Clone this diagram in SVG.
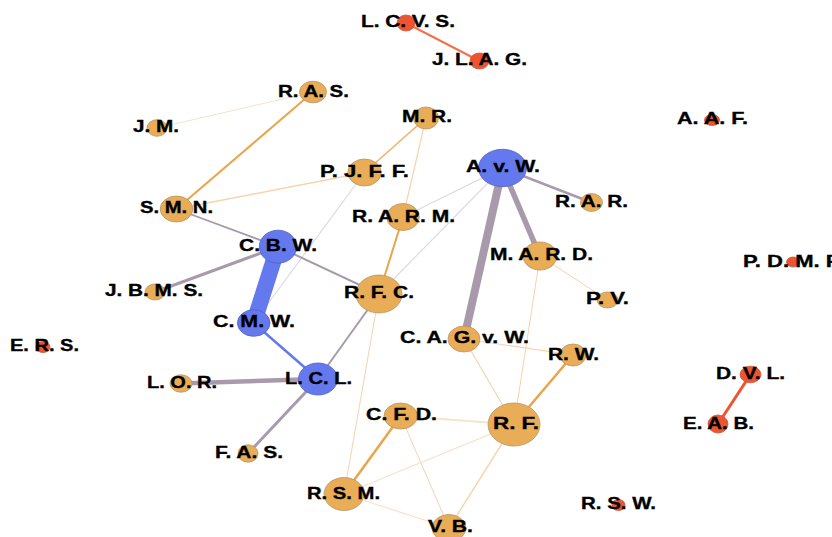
<svg xmlns="http://www.w3.org/2000/svg" width="832" height="537" viewBox="0 0 832 537">
<style>
.n ellipse{stroke-width:0.8}
.o{fill:#eaad57;stroke:#b59467}
.b{fill:#6479ee;stroke:#5362c0}
.r{fill:#ef5430;stroke:#c8583c}
text{font-family:"Liberation Sans",Arial,sans-serif;font-weight:bold;font-size:16.5px;fill:#000;stroke:#000;stroke-width:0.35;text-anchor:middle}
#edges line{fill:none;stroke-linecap:butt}
.pg{stroke:#a89aaa}
.lg{stroke:#ddd7e0}
.or{stroke:#eaa54a}
.lo{stroke:#f6d3ac}
.vlo{stroke:#f8e1c9}
</style>
<rect width="832" height="537" fill="#fff"/>
<g id="edges">
<line x1="406" y1="23" x2="479.5" y2="61" stroke="#f2704c" stroke-width="2"/>
<line x1="313" y1="92" x2="157" y2="128" class="vlo" stroke-width="1"/>
<line x1="313" y1="92" x2="176.5" y2="209" class="or" stroke-width="2"/>
<line x1="176.5" y1="209" x2="364.5" y2="172.5" class="lo" stroke-width="1.5"/>
<line x1="364.5" y1="172.5" x2="426" y2="118" class="or" stroke-width="1.6" stroke-opacity="0.85"/>
<line x1="426" y1="118" x2="403" y2="217" class="lo" stroke-width="1.2"/>
<line x1="176.5" y1="209" x2="278" y2="246.7" class="pg" stroke-width="1.8"/>
<line x1="364.5" y1="172.5" x2="253.7" y2="323" class="lg" stroke-width="1.1"/>
<line x1="278" y1="246.7" x2="155" y2="292" class="pg" stroke-width="3"/>
<line x1="278" y1="246.7" x2="379" y2="294" class="pg" stroke-width="2"/>
<line x1="278" y1="246.7" x2="253.7" y2="323" stroke="#6479ee" stroke-width="16"/>
<line x1="253.7" y1="323" x2="318" y2="379" stroke="#6479ee" stroke-width="2.5"/>
<line x1="403" y1="217" x2="379" y2="294" class="or" stroke-width="2"/>
<line x1="502.5" y1="168" x2="403" y2="217" class="lg" stroke-width="1.1"/>
<line x1="502.5" y1="168" x2="379" y2="294" class="lg" stroke-width="1.1"/>
<line x1="502.5" y1="168" x2="591.5" y2="202.5" class="pg" stroke-width="2.5"/>
<line x1="502.5" y1="168" x2="540" y2="256" class="pg" stroke-width="5.5"/>
<line x1="502.5" y1="168" x2="464" y2="339" class="pg" stroke-width="8"/>
<line x1="540" y1="256" x2="607.5" y2="300" class="lo" stroke-width="1"/>
<line x1="540" y1="256" x2="514" y2="424.5" class="lo" stroke-width="1"/>
<line x1="379" y1="294" x2="318" y2="379" class="pg" stroke-width="2"/>
<line x1="379" y1="294" x2="344" y2="494" class="lo" stroke-width="1"/>
<line x1="318" y1="379" x2="181" y2="383.5" class="pg" stroke-width="4.5"/>
<line x1="318" y1="379" x2="248" y2="453.5" class="pg" stroke-width="3"/>
<line x1="464" y1="339" x2="573" y2="355" class="lo" stroke-width="1.2"/>
<line x1="464" y1="339" x2="514" y2="424.5" class="lo" stroke-width="1.2"/>
<line x1="573" y1="355" x2="514" y2="424.5" class="or" stroke-width="2.5"/>
<line x1="400.7" y1="416" x2="514" y2="424.5" class="vlo" stroke-width="1.8"/>
<line x1="400.7" y1="416" x2="344" y2="494" class="or" stroke-width="2.5"/>
<line x1="400.7" y1="416" x2="449" y2="528" class="lo" stroke-width="1"/>
<line x1="514" y1="424.5" x2="344" y2="494" class="vlo" stroke-width="1.2"/>
<line x1="514" y1="424.5" x2="449" y2="528" class="lo" stroke-width="1.4" stroke="#f2c48c"/>
<line x1="344" y1="494" x2="449" y2="528" class="vlo" stroke-width="1.2"/>
<line x1="750.5" y1="374.5" x2="718" y2="424" stroke="#ef5430" stroke-width="3"/>
</g>
<g id="n-lcvs" class="n"><ellipse class="r" cx="406" cy="23" rx="9" ry="8"/><text x="408" y="27" textLength="94" lengthAdjust="spacingAndGlyphs">L. C. V. S.</text></g>
<g id="n-jlag" class="n"><ellipse class="r" cx="479.5" cy="61" rx="9.5" ry="8"/><text x="479.5" y="65" textLength="95" lengthAdjust="spacingAndGlyphs">J. L. A. G.</text></g>
<g id="n-ras" class="n"><ellipse class="o" cx="313" cy="92" rx="13.5" ry="10.8"/><text x="313.5" y="97" textLength="71" lengthAdjust="spacingAndGlyphs">R. A. S.</text></g>
<g id="n-jm" class="n"><ellipse class="o" cx="157" cy="128" rx="10" ry="8.3"/><text x="156" y="132" textLength="46" lengthAdjust="spacingAndGlyphs">J. M.</text></g>
<g id="n-mr" class="n"><ellipse class="o" cx="426" cy="118" rx="12.5" ry="11"/><text x="427" y="122" textLength="50" lengthAdjust="spacingAndGlyphs">M. R.</text></g>
<g id="n-aaf" class="n"><ellipse class="r" cx="712" cy="120" rx="7.5" ry="5.5"/><text x="712.5" y="124" textLength="71" lengthAdjust="spacingAndGlyphs">A. A. F.</text></g>
<g id="n-pjff" class="n"><ellipse class="o" cx="364.5" cy="172.5" rx="16.7" ry="13.5"/><text x="364.5" y="177" textLength="89" lengthAdjust="spacingAndGlyphs">P. J. F. F.</text></g>
<g id="n-avw" class="n"><ellipse class="b" cx="502.5" cy="168" rx="24" ry="18.7"/><text x="503" y="172" textLength="74" lengthAdjust="spacingAndGlyphs">A. v. W.</text></g>
<g id="n-smn" class="n"><ellipse class="o" cx="176.5" cy="209" rx="16.3" ry="13"/><text x="176.5" y="213" textLength="73" lengthAdjust="spacingAndGlyphs">S. M. N.</text></g>
<g id="n-rarm" class="n"><ellipse class="o" cx="403" cy="217" rx="16.3" ry="13.5"/><text x="403.5" y="222" textLength="103" lengthAdjust="spacingAndGlyphs">R. A. R. M.</text></g>
<g id="n-rar" class="n"><ellipse class="o" cx="591.5" cy="202.5" rx="11" ry="9"/><text x="591.5" y="207" textLength="73" lengthAdjust="spacingAndGlyphs">R. A. R.</text></g>
<g id="n-cbw" class="n"><ellipse class="b" cx="278" cy="246.7" rx="18.7" ry="16.5"/><text x="278" y="251" textLength="78" lengthAdjust="spacingAndGlyphs">C. B. W.</text></g>
<g id="n-mard" class="n"><ellipse class="o" cx="540" cy="256" rx="17" ry="14"/><text x="541.5" y="260" textLength="103" lengthAdjust="spacingAndGlyphs">M. A. R. D.</text></g>
<g id="n-pdmf" class="n"><ellipse class="r" cx="793" cy="262" rx="6.5" ry="5"/><text x="793" y="267" textLength="100" lengthAdjust="spacingAndGlyphs">P. D. M. F.</text></g>
<g id="n-jbms" class="n"><ellipse class="o" cx="155" cy="292" rx="10" ry="8"/><text x="154" y="296" textLength="98" lengthAdjust="spacingAndGlyphs">J. B. M. S.</text></g>
<g id="n-rfc" class="n"><ellipse class="o" cx="379" cy="294" rx="23" ry="19"/><text x="379" y="298" textLength="70" lengthAdjust="spacingAndGlyphs">R. F. C.</text></g>
<g id="n-pv" class="n"><ellipse class="o" cx="607.5" cy="300" rx="10.5" ry="8"/><text x="607.5" y="304" textLength="43" lengthAdjust="spacingAndGlyphs">P. V.</text></g>
<g id="n-cmw" class="n"><ellipse class="b" cx="253.7" cy="323" rx="16.3" ry="13.3"/><text x="254" y="327" textLength="82" lengthAdjust="spacingAndGlyphs">C. M. W.</text></g>
<g id="n-ers" class="n"><ellipse class="r" cx="43" cy="347" rx="7" ry="5.5"/><text x="44.5" y="351" textLength="69" lengthAdjust="spacingAndGlyphs">E. R. S.</text></g>
<g id="n-cagvw" class="n"><ellipse class="o" cx="464" cy="339" rx="16" ry="13"/><text x="464.5" y="343" textLength="129" lengthAdjust="spacingAndGlyphs">C. A. G. v. W.</text></g>
<g id="n-rw" class="n"><ellipse class="o" cx="573" cy="355" rx="13" ry="11"/><text x="573.5" y="360" textLength="51" lengthAdjust="spacingAndGlyphs">R. W.</text></g>
<g id="n-lcl" class="n"><ellipse class="b" cx="318" cy="379" rx="19.5" ry="16"/><text x="318.5" y="384" textLength="67" lengthAdjust="spacingAndGlyphs">L. C. L.</text></g>
<g id="n-lor" class="n"><ellipse class="o" cx="181" cy="383.5" rx="11" ry="8.7"/><text x="182" y="388" textLength="70" lengthAdjust="spacingAndGlyphs">L. O. R.</text></g>
<g id="n-dvl" class="n"><ellipse class="r" cx="750.5" cy="374.5" rx="10.5" ry="8.3"/><text x="750.5" y="379" textLength="69" lengthAdjust="spacingAndGlyphs">D. V. L.</text></g>
<g id="n-cfd" class="n"><ellipse class="o" cx="400.7" cy="416" rx="16.7" ry="13"/><text x="401.5" y="420" textLength="71" lengthAdjust="spacingAndGlyphs">C. F. D.</text></g>
<g id="n-rf" class="n"><ellipse class="o" cx="514" cy="424.5" rx="26" ry="21.5"/><text x="516" y="429" textLength="46" lengthAdjust="spacingAndGlyphs">R. F.</text></g>
<g id="n-eab" class="n"><ellipse class="r" cx="718" cy="424" rx="10" ry="9"/><text x="718.5" y="429" textLength="71" lengthAdjust="spacingAndGlyphs">E. A. B.</text></g>
<g id="n-fas" class="n"><ellipse class="o" cx="248" cy="453.5" rx="10" ry="8.7"/><text x="249" y="458" textLength="68" lengthAdjust="spacingAndGlyphs">F. A. S.</text></g>
<g id="n-rsm" class="n"><ellipse class="o" cx="344" cy="494" rx="20" ry="16.5"/><text x="343.5" y="499" textLength="73" lengthAdjust="spacingAndGlyphs">R. S. M.</text></g>
<g id="n-rsw" class="n"><ellipse class="r" cx="618.5" cy="505" rx="6.5" ry="5.5"/><text x="618.5" y="509" textLength="75" lengthAdjust="spacingAndGlyphs">R. S. W.</text></g>
<g id="n-vb" class="n"><ellipse class="o" cx="449" cy="528" rx="17" ry="13.5"/><text x="450.5" y="532" textLength="45" lengthAdjust="spacingAndGlyphs">V. B.</text></g>
</svg>
